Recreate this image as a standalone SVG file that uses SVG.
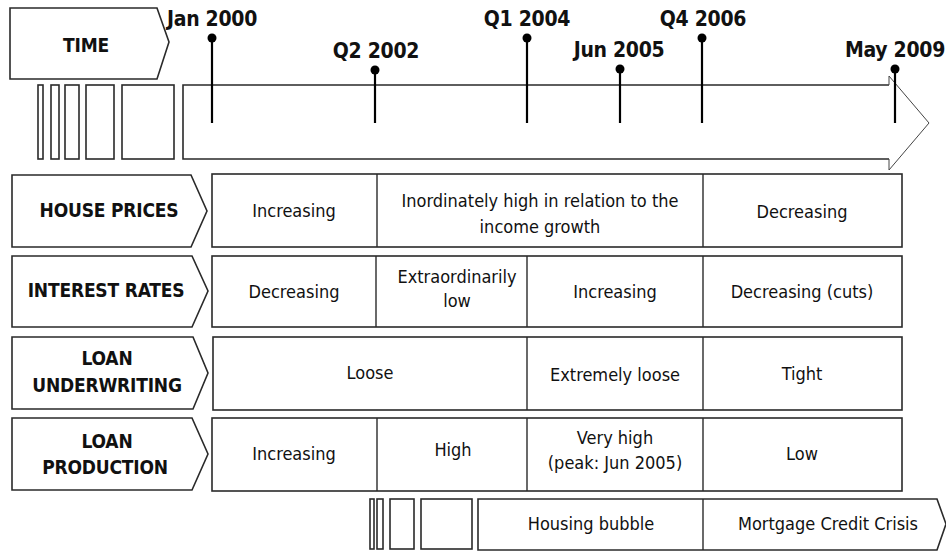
<svg xmlns="http://www.w3.org/2000/svg" width="946" height="551" viewBox="0 0 946 551">
<style>
  .bg { fill: #ffffff; }
  .shape { fill: #ffffff; stroke: #2a2a2a; stroke-width: 1.6; }
  .thin { fill: none; stroke: #444444; stroke-width: 1; }
  .div { stroke: #2a2a2a; stroke-width: 1.4; }
  .tick { stroke: #000000; stroke-width: 2.2; }
  .dot { fill: #000000; }
  text { font-family: "DejaVu Sans Condensed", "DejaVu Sans", sans-serif; font-stretch: condensed; fill: #111111; }
  .lbl { font-size: 19px; font-weight: bold; text-anchor: middle; letter-spacing: -0.2px; }
  .date { font-size: 21px; font-weight: bold; text-anchor: middle; letter-spacing: -0.3px; }
  .cell { font-size: 18px; text-anchor: middle; }
</style>
<rect class="bg" x="0" y="0" width="946" height="551"/>

<g id="time-label">
  <polygon class="shape" points="10,8 157,8 169,42 157,79 10,79"/>
  <text class="lbl" x="86" y="52" font-size="21">TIME</text>
</g>

<g id="time-bars">
  <rect class="shape" x="38" y="85" width="5" height="74"/>
  <rect class="shape" x="51" y="85" width="8" height="74"/>
  <rect class="shape" x="65" y="85" width="14" height="74"/>
  <rect class="shape" x="86" y="85" width="28" height="74"/>
  <rect class="shape" x="122" y="85" width="52" height="74"/>
</g>

<g id="timeline-arrow">
  <polyline class="shape" points="889,85 183,85 183,159 889,159"/>
  <polyline class="thin" points="889,85 889,76 929,123 889,170 889,159"/>
</g>

<g id="ticks">
  <line class="tick" x1="212" y1="38" x2="212" y2="123"/>
  <circle class="dot" cx="212" cy="38" r="4.5"/>
  <line class="tick" x1="375" y1="70" x2="375" y2="123"/>
  <circle class="dot" cx="375" cy="70" r="4.5"/>
  <line class="tick" x1="527" y1="38" x2="527" y2="123"/>
  <circle class="dot" cx="527" cy="38" r="4.5"/>
  <line class="tick" x1="620" y1="69" x2="620" y2="123"/>
  <circle class="dot" cx="620" cy="69" r="4.5"/>
  <line class="tick" x1="702" y1="38" x2="702" y2="123"/>
  <circle class="dot" cx="702" cy="38" r="4.5"/>
  <line class="tick" x1="895" y1="69" x2="895" y2="123"/>
  <circle class="dot" cx="895" cy="69" r="4.5"/>
</g>

<g id="dates">
  <text class="date" x="212" y="26">Jan 2000</text>
  <text class="date" x="376" y="58">Q2 2002</text>
  <text class="date" x="527" y="26">Q1 2004</text>
  <text class="date" x="619" y="57">Jun 2005</text>
  <text class="date" x="703" y="26">Q4 2006</text>
  <text class="date" x="895" y="57">May 2009</text>
</g>

<g id="house-prices">
  <polygon class="shape" points="12,175 191,175 207,211 191,247 12,247"/>
  <text class="lbl" x="109" y="217">HOUSE PRICES</text>
  <rect class="shape" x="212" y="174" width="690" height="73"/>
  <line class="div" x1="377" y1="174" x2="377" y2="247"/>
  <line class="div" x1="703" y1="174" x2="703" y2="247"/>
  <text class="cell" x="294" y="217">Increasing</text>
  <text class="cell" x="540" y="207">Inordinately high in relation to the</text>
  <text class="cell" x="540" y="233">income growth</text>
  <text class="cell" x="802" y="218">Decreasing</text>
</g>

<g id="interest-rates">
  <polygon class="shape" points="12,256 192,256 208,291 192,327 12,327"/>
  <text class="lbl" x="106" y="297">INTEREST RATES</text>
  <rect class="shape" x="212" y="256" width="690" height="71"/>
  <line class="div" x1="376" y1="256" x2="376" y2="327"/>
  <line class="div" x1="527" y1="256" x2="527" y2="327"/>
  <line class="div" x1="703" y1="256" x2="703" y2="327"/>
  <text class="cell" x="294" y="298">Decreasing</text>
  <text class="cell" x="457" y="283">Extraordinarily</text>
  <text class="cell" x="457" y="307">low</text>
  <text class="cell" x="615" y="298">Increasing</text>
  <text class="cell" x="802" y="298">Decreasing (cuts)</text>
</g>

<g id="loan-underwriting">
  <polygon class="shape" points="12,337 193,337 208,373 193,409 12,409"/>
  <text class="lbl" x="107" y="365">LOAN</text>
  <text class="lbl" x="107" y="392">UNDERWRITING</text>
  <rect class="shape" x="213" y="337" width="689" height="73"/>
  <line class="div" x1="527" y1="337" x2="527" y2="410"/>
  <line class="div" x1="703" y1="337" x2="703" y2="410"/>
  <text class="cell" x="370" y="379">Loose</text>
  <text class="cell" x="615" y="381">Extremely loose</text>
  <text class="cell" x="802" y="380">Tight</text>
</g>

<g id="loan-production">
  <polygon class="shape" points="12,418 192,418 208,454 192,490 12,490"/>
  <text class="lbl" x="107" y="448">LOAN</text>
  <text class="lbl" x="105" y="474">PRODUCTION</text>
  <rect class="shape" x="212" y="418" width="690" height="73"/>
  <line class="div" x1="377" y1="418" x2="377" y2="491"/>
  <line class="div" x1="527" y1="418" x2="527" y2="491"/>
  <line class="div" x1="703" y1="418" x2="703" y2="491"/>
  <text class="cell" x="294" y="460">Increasing</text>
  <text class="cell" x="453" y="456">High</text>
  <text class="cell" x="615" y="444">Very high</text>
  <text class="cell" x="615" y="469">(peak: Jun 2005)</text>
  <text class="cell" x="802" y="460">Low</text>
</g>

<g id="phase-bars">
  <rect class="shape" x="370" y="499" width="4" height="50"/>
  <rect class="shape" x="377" y="499" width="6" height="50"/>
  <rect class="shape" x="390" y="499" width="24" height="50"/>
  <rect class="shape" x="421" y="499" width="51" height="50"/>
</g>

<g id="phases">
  <polygon class="shape" points="478,499 937,499 946,524 937,550 478,550"/>
  <line class="div" x1="703" y1="499" x2="703" y2="550"/>
  <text class="cell" x="591" y="530">Housing bubble</text>
  <text class="cell" x="828" y="530">Mortgage Credit Crisis</text>
</g>
</svg>
